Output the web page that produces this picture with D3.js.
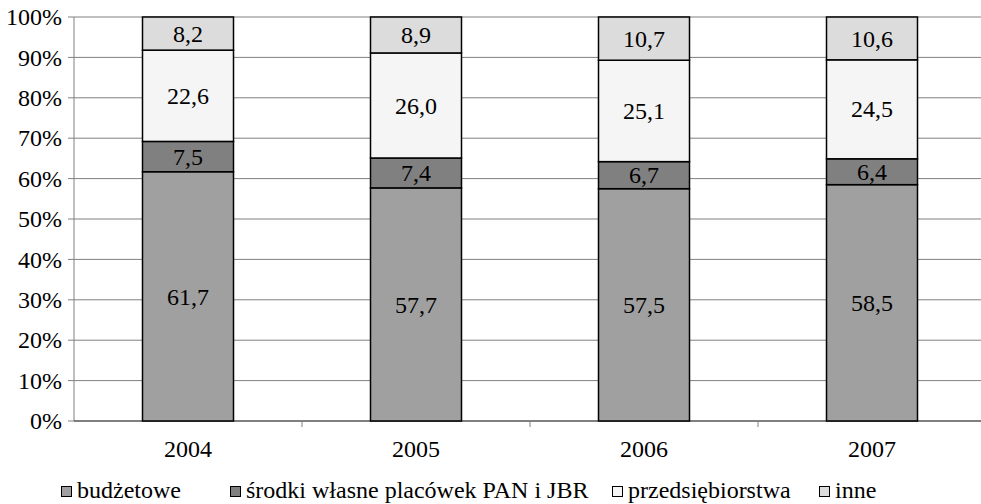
<!DOCTYPE html>
<html lang="pl"><head><meta charset="utf-8">
<script src="https://cdn.jsdelivr.net/npm/d3@7"></script>
</head><body style="margin:0;background:#fff"><svg id="c" width="981" height="504"></svg>
<script>
const years = ["2004","2005","2006","2007"];
const seriesNames = ["budżetowe","środki własne placówek PAN i JBR","przedsiębiorstwa","inne"];
const budzetowe = [61.7,57.7,57.5,58.5];
const srodki = [7.5,7.4,6.7,6.4];
const przedsiebiorstwa = [22.6,26.0,25.1,24.5];
const inne = [8.2,8.9,10.7,10.6];
const yTicks = [0,10,20,30,40,50,60,70,80,90,100];
const colors = ["#a0a0a0","#808080","#f5f5f5","#dcdcdc"];
const legendX = [61,230,612,819];
const FONT = "'Times New Roman', 'Liberation Serif', Tinos, serif";
const FS = 24, LFS = 24;

const svg = d3.select("#c");
const L=74,R=986,T=17,B=421;
const xb = d3.scaleBand().domain(years).range([L,R]);
const y = d3.scaleLinear().domain([0,100]).range([B,T]);

function addText(x,yy,str,anchor,size){
  return svg.append("text").attr("x",Math.round(x)).attr("y",Math.round(yy))
    .attr("text-anchor",anchor).attr("font-family",FONT)
    .attr("font-size",size).attr("fill","#000").text(str);
}

// gridlines
svg.append("g").selectAll("line").data(yTicks.filter(d=>d>0)).join("line")
  .attr("x1",L).attr("x2",R).attr("y1",d=>y(d)).attr("y2",d=>y(d))
  .attr("stroke","#808080").attr("stroke-width",1);

// y axis line + ticks
svg.append("line").attr("x1",L).attr("x2",L).attr("y1",T).attr("y2",B).attr("stroke","#808080");
svg.append("g").selectAll("line").data(yTicks).join("line")
  .attr("x1",L-6).attr("x2",L).attr("y1",d=>y(d)).attr("y2",d=>y(d)).attr("stroke","#808080");

// x axis
svg.append("line").attr("x1",L).attr("x2",R).attr("y1",B).attr("y2",B).attr("stroke","#000");
svg.append("g").selectAll("line").data(years.slice(1)).join("line")
  .attr("x1",d=>xb(d)).attr("x2",d=>xb(d)).attr("y1",B).attr("y2",B+6).attr("stroke","#808080");

// stacked
const table = years.map((yr,i)=>({year:yr, s0:budzetowe[i], s1:srodki[i], s2:przedsiebiorstwa[i], s3:inne[i]}));
const stack = d3.stack().keys(["s0","s1","s2","s3"])(table);
const bw = 91;
stack.forEach((layer,k)=>{
  svg.append("g").selectAll("rect").data(layer).join("rect")
    .attr("x",d=>xb(d.data.year)+xb.bandwidth()/2-bw/2).attr("width",bw)
    .attr("y",d=>y(d[1])).attr("height",d=>y(d[0])-y(d[1]))
    .attr("fill",colors[k]).attr("stroke","#000").attr("stroke-width",1.5);
});

// texts
yTicks.forEach(t=>addText(L-12, y(t)+FS*0.34, t+"%", "end", FS));
years.forEach(yr=>addText(xb(yr)+xb.bandwidth()/2, B+36, yr, "middle", FS));
stack.forEach(layer=>layer.forEach(d=>{
  addText(xb(d.data.year)+xb.bandwidth()/2, (y(d[0])+y(d[1]))/2 + LFS*0.34,
    d3.format(".1f")(d[1]-d[0]).replace(".",","), "middle", LFS);
}));

// legend
seriesNames.forEach((n,i)=>{
  svg.append("rect").attr("x",legendX[i]+0.5).attr("y",486.5).attr("width",10).attr("height",10)
    .attr("fill",colors[i]).attr("stroke","#000").attr("stroke-width",1);
  addText(legendX[i]+16, 498, n, "start", FS);
});
</script></body></html>
